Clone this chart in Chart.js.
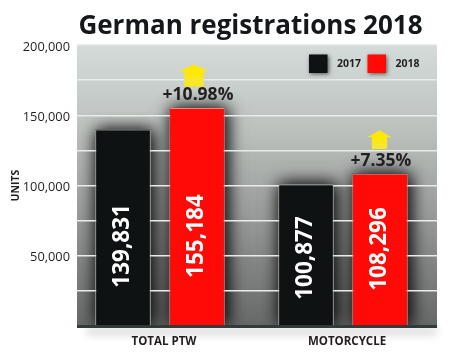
<!DOCTYPE html>
<html><head><meta charset="utf-8">
<style>html,body{margin:0;padding:0;background:#fff}canvas{display:block}</style>
<script src="https://cdn.jsdelivr.net/npm/chart.js@4"></script>
</head><body><canvas id="c" width="452" height="362"></canvas>
<script>
const categories = ['TOTAL PTW', 'MOTORCYCLE'];
const units2017 = [139831, 100877];
const units2018 = [155184, 108296];
const changes = ['+10.98%', '+7.35%'];
const seriesNames = ['2017', '2018'];
const labelledTicks = [50000, 100000, 150000, 200000];

class GroupedCategory extends Chart.CategoryScale {
  static id = 'groupedCategory';
  configure() {
    super.configure();
    this._startValue = -83 / 183;
    this._valueRange = this._length / 183;
  }
}
Chart.register(GroupedCategory);

const FONT = '"Open Sans", sans-serif';
const decor = {
  id: 'decor',
  afterLayout(chart) {
    chart.titleBlock.left = 78;
    chart.titleBlock.right = 423;
  },
  beforeDraw(chart) {
    const {ctx, chartArea: a} = chart;
    const g = ctx.createLinearGradient(0, a.top, 0, a.bottom);
    g.addColorStop(0, '#d4dcd9'); g.addColorStop(0.3, '#bcc1be');
    g.addColorStop(0.6, '#999c9a'); g.addColorStop(1, '#666867');
    ctx.save();
    ctx.shadowColor = 'rgba(0,0,0,0.35)'; ctx.shadowBlur = 8; ctx.shadowOffsetY = 5;
    ctx.fillStyle = '#333a3a'; ctx.fillRect(a.left + 10, a.bottom - 1, a.width - 10, 3);
    ctx.shadowColor = 'transparent'; ctx.shadowOffsetY = 0;
    ctx.fillRect(a.left, a.bottom - 1, a.width, 3);
    ctx.fillStyle = g; ctx.fillRect(a.left, a.top - 1, a.width, a.height);
    ctx.beginPath(); ctx.rect(a.left, a.top - 1, a.width, a.height); ctx.clip();
    ctx.shadowColor = 'rgba(0,0,0,0.7)'; ctx.shadowBlur = 16; ctx.shadowOffsetX = 2;
    ctx.fillStyle = '#444';
    chart.data.datasets.forEach((ds, d) => chart.getDatasetMeta(d).data.forEach(bar => {
      ctx.fillRect(bar.x - bar.width / 2, bar.y, bar.width, bar.base - bar.y);
      ctx.fillRect(bar.x - bar.width / 2, bar.y, bar.width, bar.base - bar.y);
    }));
    ctx.restore();
  },
  afterDatasetsDraw(chart, args, opts) {
    const {ctx, scales} = chart;
    ctx.save();
    ctx.textAlign = 'left'; ctx.textBaseline = 'middle';
    chart.data.datasets.forEach((ds, d) => {
      const x = opts.legendX[d], y = opts.legendY;
      ctx.save();
      ctx.shadowColor = 'rgba(0,0,0,0.6)'; ctx.shadowBlur = 4; ctx.shadowOffsetX = 1; ctx.shadowOffsetY = 1;
      ctx.fillStyle = ds.backgroundColor; ctx.fillRect(x, y, 18.5, 18.5);
      ctx.restore();
      ctx.fillStyle = '#231f20';
      ctx.font = 'bold 10.5px ' + FONT;
      ctx.fillText(ds.label, x + 28, y + 10);
    });
    ctx.fillStyle = '#fff';
    ctx.font = 'bold 22.5px ' + FONT;
    ctx.textAlign = 'center';
    chart.data.datasets.forEach((ds, d) => {
      chart.getDatasetMeta(d).data.forEach((bar, i) => {
        ctx.save();
        ctx.translate(bar.x, scales.y.getPixelForValue(opts.valueLabelAt[d][i]));
        ctx.rotate(-Math.PI / 2);
        ctx.fillText(ds.data[i].toLocaleString('en-US'), 0, 0);
        ctx.restore();
      });
    });
    chart.getDatasetMeta(1).data.forEach((bar, i) => {
      const s = opts.arrowScale[i], k = s < 1 ? 0.85 : 1, x = bar.x - 3 + i * 2.5, tip = bar.y - 43.5;
      ctx.fillStyle = '#ffe900';
      ctx.beginPath();
      ctx.moveTo(x, tip);
      ctx.lineTo(x + 15 * s, tip + 7);
      ctx.lineTo(x + 9.5 * s, tip + 7);
      ctx.lineTo(x + 9.5 * s, tip + 22 * k);
      ctx.lineTo(x - 9.5 * s, tip + 22 * k);
      ctx.lineTo(x - 9.5 * s, tip + 7);
      ctx.lineTo(x - 15 * s, tip + 7);
      ctx.closePath();
      ctx.fill();
      ctx.fillStyle = 'rgba(235,225,120,0.9)';
      [13, 16, 19].forEach(o => ctx.fillRect(x - 9.5 * s, tip + o * k, 19 * s, 1));
      ctx.fillStyle = '#231f20';
      ctx.font = 'bold 17.5px ' + FONT;
      ctx.fillText(changes[i], bar.x + 1, bar.y - 13);
    });
    ctx.restore();
  }
};

new Chart(document.getElementById('c'), {
  type: 'bar',
  data: {
    labels: categories,
    datasets: [
      {label: seriesNames[0], data: units2017, backgroundColor: '#0f1212', borderColor: '#b9bfbd', borderWidth: 1},
      {label: seriesNames[1], data: units2018, backgroundColor: '#ff0a06', borderColor: '#f08a80', borderWidth: 1}
    ]
  },
  options: {
    responsive: false, animation: false,
    categoryPercentage: 148 / 183, barPercentage: 0.75,
    layout: {padding: {left: 10, right: 15, top: 0, bottom: 0}},
    scales: {
      x: {
        type: 'groupedCategory',
        grid: {display: false},
        border: {display: false},
        afterFit(s) { s.height = 36; },
        ticks: {color: '#231f20', font: {family: FONT, weight: 'bold', size: 11.5}, labelOffset: 4, padding: 1, maxRotation: 0, autoSkip: false}
      },
      y: {
        min: 0, max: 200000,
        afterFit(s) { s.width = 67; },
        border: {display: false},
        grid: {color: c => c.tick.value === 0 ? 'transparent' : '#e8ecea', lineWidth: 1.4, drawTicks: false},
        ticks: {
          stepSize: 25000, autoSkip: false, padding: 7, color: '#231f20', labelOffset: 2,
          font: {family: FONT, size: 12.8},
          callback: v => labelledTicks.includes(v) ? v.toLocaleString('en-US') : ''
        },
        title: {display: true, text: 'UNITS', color: '#231f20', font: {family: FONT, weight: 'bold', size: 10.5}, padding: 0}
      }
    },
    plugins: {
      title: {display: true, text: 'German registrations 2018', color: '#14181a', font: {family: FONT, weight: 'bold', size: 26}, padding: {top: 11, bottom: 2.8}},
      legend: {display: false},
      tooltip: {enabled: false},
      decor: {valueLabelAt: [[57000, 48400], [64000, 54800]], arrowScale: [1, 0.8], legendX: [309, 367.5], legendY: 54.5}
    }
  },
  plugins: [decor]
});
</script></body></html>
